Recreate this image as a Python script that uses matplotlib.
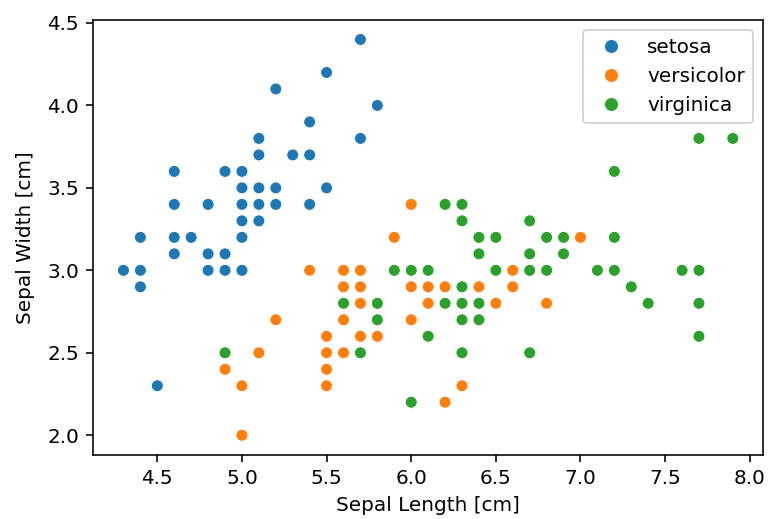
import pandas as pd
import seaborn as sns
from matplotlib import pyplot as plt

# iris sepal measurements, per species
setosa_len = [5.1, 4.9, 4.7, 4.6, 5.0, 5.4, 4.6, 5.0, 4.4, 4.9, 5.4, 4.8, 4.8, 4.3, 5.8, 5.7, 5.4,
              5.1, 5.7, 5.1, 5.4, 5.1, 4.6, 5.1, 4.8, 5.0, 5.0, 5.2, 5.2, 4.7, 4.8, 5.4, 5.2, 5.5,
              4.9, 5.0, 5.5, 4.9, 4.4, 5.1, 5.0, 4.5, 4.4, 5.0, 5.1, 4.8, 5.1, 4.6, 5.3, 5.0]
setosa_wid = [3.5, 3.0, 3.2, 3.1, 3.6, 3.9, 3.4, 3.4, 2.9, 3.1, 3.7, 3.4, 3.0, 3.0, 4.0, 4.4, 3.9,
              3.5, 3.8, 3.8, 3.4, 3.7, 3.6, 3.3, 3.4, 3.0, 3.4, 3.5, 3.4, 3.2, 3.1, 3.4, 4.1, 4.2,
              3.1, 3.2, 3.5, 3.6, 3.0, 3.4, 3.5, 2.3, 3.2, 3.5, 3.8, 3.0, 3.8, 3.2, 3.7, 3.3]
versicolor_len = [7.0, 6.4, 6.9, 5.5, 6.5, 5.7, 6.3, 4.9, 6.6, 5.2, 5.0, 5.9, 6.0, 6.1, 5.6, 6.7,
                  5.6, 5.8, 6.2, 5.6, 5.9, 6.1, 6.3, 6.1, 6.4, 6.6, 6.8, 6.7, 6.0, 5.7, 5.5, 5.5,
                  5.8, 6.0, 5.4, 6.0, 6.7, 6.3, 5.6, 5.5, 5.5, 6.1, 5.8, 5.0, 5.6, 5.7, 5.7, 6.2,
                  5.1, 5.7]
versicolor_wid = [3.2, 3.2, 3.1, 2.3, 2.8, 2.8, 3.3, 2.4, 2.9, 2.7, 2.0, 3.0, 2.2, 2.9, 2.9, 3.1,
                  3.0, 2.7, 2.2, 2.5, 3.2, 2.8, 2.5, 2.8, 2.9, 3.0, 2.8, 3.0, 2.9, 2.6, 2.4, 2.4,
                  2.7, 2.7, 3.0, 3.4, 3.1, 2.3, 3.0, 2.5, 2.6, 3.0, 2.6, 2.3, 2.7, 3.0, 2.9, 2.9,
                  2.5, 2.8]
virginica_len = [6.3, 5.8, 7.1, 6.3, 6.5, 7.6, 4.9, 7.3, 6.7, 7.2, 6.5, 6.4, 6.8, 5.7, 5.8, 6.4,
                 6.5, 7.7, 7.7, 6.0, 6.9, 5.6, 7.7, 6.3, 6.7, 7.2, 6.2, 6.1, 6.4, 7.2, 7.4, 7.9,
                 6.4, 6.3, 6.1, 7.7, 6.3, 6.4, 6.0, 6.9, 6.7, 6.9, 5.8, 6.8, 6.7, 6.7, 6.3, 6.5,
                 6.2, 5.9]
virginica_wid = [3.3, 2.7, 3.0, 2.9, 3.0, 3.0, 2.5, 2.9, 2.5, 3.6, 3.2, 2.7, 3.0, 2.5, 2.8, 3.2,
                 3.0, 3.8, 2.6, 2.2, 3.2, 2.8, 2.8, 2.7, 3.3, 3.2, 2.8, 3.0, 2.8, 3.0, 2.8, 3.8,
                 2.8, 2.8, 2.6, 3.0, 3.4, 3.1, 3.0, 3.1, 3.1, 3.1, 2.7, 3.2, 3.3, 3.0, 2.5, 3.0,
                 3.4, 3.0]

df = pd.DataFrame({
    'length': setosa_len + versicolor_len + virginica_len,
    'width': setosa_wid + versicolor_wid + virginica_wid,
    'species': ['setosa'] * 50 + ['versicolor'] * 50 + ['virginica'] * 50,
})

dpi = 144
fig = plt.figure(figsize=(770 / dpi, 519 / dpi), dpi=dpi)
# axes box in pixels: left 93, right 763, top 20, bottom 455
ax = fig.add_axes([93 / 770, 1 - 455 / 519, (763.3 - 93) / 770, (455 - 19.7) / 519])
sns.scatterplot(data=df, x='length', y='width', hue='species', ax=ax)
ax.set_xlabel('Sepal Length [cm]')
ax.set_ylabel('Sepal Width [cm]', labelpad=6)
leg = ax.legend(loc='upper right')
for h in leg.legend_handles:
    h.set_markersize(7)

fig.savefig('out.png', dpi=dpi)
